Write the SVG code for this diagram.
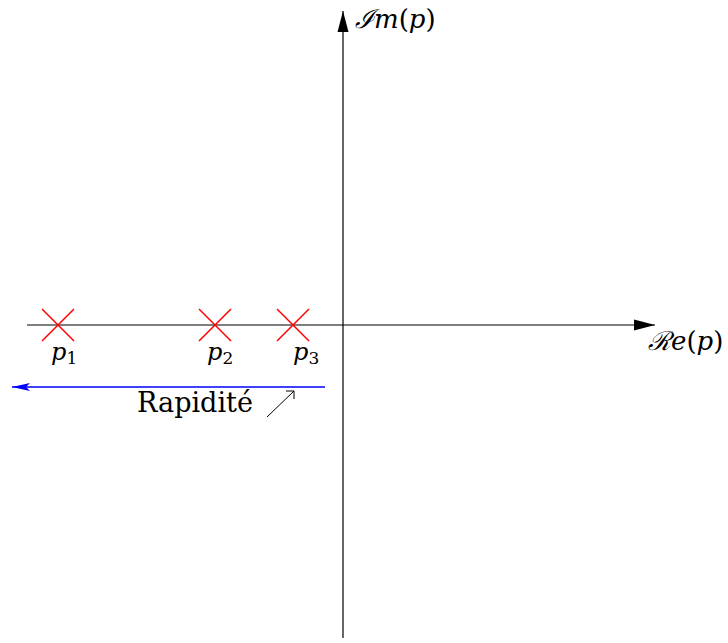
<svg xmlns="http://www.w3.org/2000/svg" width="728" height="643" viewBox="0 0 728 643">
<style>
.ax{stroke:#000;stroke-width:1.2;fill:none}
.pole{stroke:#ff0000;stroke-width:1.5;fill:none}
.t{font-family:"DejaVu Serif","Liberation Serif","Times New Roman",Times,serif;fill:#000}
.it{font-style:italic}
</style>
<defs>
<marker id="ah" markerUnits="userSpaceOnUse" markerWidth="24" markerHeight="14" refX="21" refY="6" orient="auto">
<path d="M0,0.5 L21,6 L0,11.5 Z" fill="#000"/>
</marker>
<marker id="bh" markerUnits="userSpaceOnUse" markerWidth="20" markerHeight="12" refX="18" refY="5" orient="auto">
<path d="M0,1 L18,5 L0,9 L4,5 Z" fill="#0000ff"/>
</marker>
</defs>
<g id="connectors">
<line id="im-axis" class="ax" x1="343" y1="638" x2="343" y2="11" marker-end="url(#ah)"/>
<line id="re-axis" class="ax" x1="27" y1="325" x2="655" y2="325" marker-end="url(#ah)"/>
<line id="speed-arrow" x1="325" y1="387" x2="12" y2="387" stroke="#0000ff" stroke-width="1.5" marker-end="url(#bh)"/>
</g>
<g id="p1">
<path class="pole" d="M42,309 L74,341 M74,309 L42,341"/>
<text class="t" x="51" y="360" font-size="24"><tspan class="it">p</tspan><tspan font-size="17" dy="4">1</tspan></text>
</g>
<g id="p2">
<path class="pole" d="M199,309 L231,341 M231,309 L199,341"/>
<text class="t" x="207" y="360" font-size="24"><tspan class="it">p</tspan><tspan font-size="17" dy="4">2</tspan></text>
</g>
<g id="p3">
<path class="pole" d="M277,309 L309,341 M309,309 L277,341"/>
<text class="t" x="293" y="360" font-size="24"><tspan class="it">p</tspan><tspan font-size="17" dy="4">3</tspan></text>
</g>
<g id="im-label">
<text class="t" x="355" y="28" font-size="26"><tspan class="it">ℐm</tspan>(<tspan class="it">p</tspan>)</text>
</g>
<g id="re-label">
<text class="t" x="648" y="350" font-size="26"><tspan class="it">ℛe</tspan>(<tspan class="it">p</tspan>)</text>
</g>
<g id="rapidite">
<text class="t" x="137" y="412" font-size="28" textLength="116" lengthAdjust="spacingAndGlyphs">Rapidité</text>
<line x1="267" y1="417" x2="294" y2="391" stroke="#000" stroke-width="1"/>
<path d="M286,391 L294,391 L294,399" stroke="#000" stroke-width="1" fill="none"/>
</g>
</svg>
